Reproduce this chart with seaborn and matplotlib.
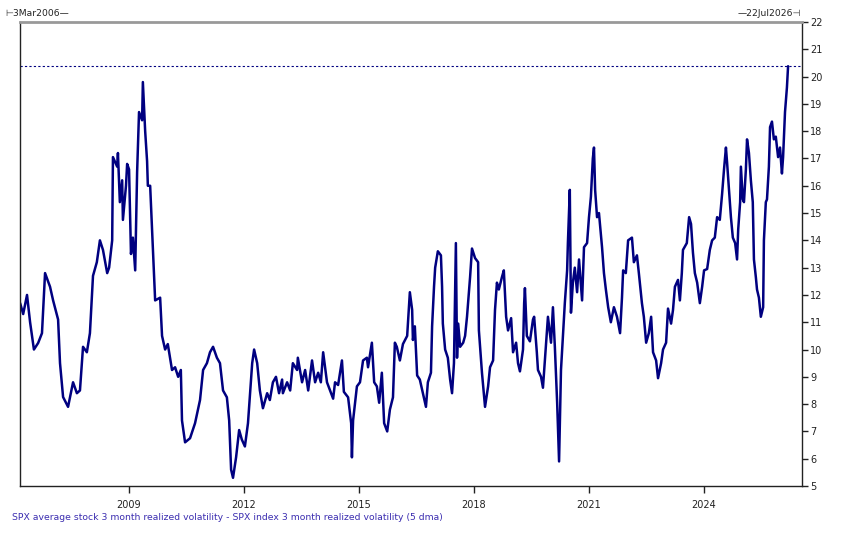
import numpy as np
import pandas as pd
import matplotlib
matplotlib.use("Agg")
import matplotlib.pyplot as plt
import seaborn as sns

# Decimal-year dates and values
years = [2006.17, 2006.25, 2006.35, 2006.43, 2006.53, 2006.64, 2006.74, 2006.82, 2006.95, 2007.03,
         2007.16, 2007.21, 2007.29, 2007.42, 2007.55, 2007.65, 2007.73, 2007.81, 2007.91, 2007.99,
         2008.07, 2008.17, 2008.25, 2008.33, 2008.44, 2008.49, 2008.57, 2008.59, 2008.70, 2008.72,
         2008.77, 2008.83, 2008.85, 2008.93, 2008.96, 2009.01, 2009.06, 2009.11, 2009.17, 2009.22,
         2009.27, 2009.35, 2009.37, 2009.43, 2009.48, 2009.50, 2009.56, 2009.63, 2009.69, 2009.82,
         2009.87, 2009.95, 2010.02, 2010.13, 2010.21, 2010.29, 2010.36, 2010.39, 2010.47, 2010.60,
         2010.73, 2010.86, 2010.94, 2011.04, 2011.12, 2011.20, 2011.30, 2011.38, 2011.46, 2011.56,
         2011.62, 2011.67, 2011.72, 2011.80, 2011.88, 2011.95, 2012.03, 2012.11, 2012.22, 2012.27,
         2012.35, 2012.42, 2012.50, 2012.61, 2012.68, 2012.76, 2012.84, 2012.92, 2013.00, 2013.02,
         2013.13, 2013.21, 2013.28, 2013.39, 2013.41, 2013.52, 2013.60, 2013.68, 2013.78, 2013.86,
         2013.94, 2014.01, 2014.07, 2014.17, 2014.25, 2014.33, 2014.38, 2014.46, 2014.56, 2014.61,
         2014.72, 2014.80, 2014.82, 2014.85, 2014.95, 2015.03, 2015.11, 2015.21, 2015.24, 2015.34,
         2015.40, 2015.47, 2015.53, 2015.60, 2015.66, 2015.74, 2015.81, 2015.89, 2015.94, 2015.99,
         2016.07, 2016.15, 2016.26, 2016.28, 2016.33, 2016.39, 2016.41, 2016.46, 2016.52, 2016.59,
         2016.67, 2016.75, 2016.80, 2016.88, 2016.91, 2016.96, 2016.99, 2017.06, 2017.14, 2017.17,
         2017.19, 2017.25, 2017.32, 2017.38, 2017.43, 2017.48, 2017.53, 2017.56, 2017.59, 2017.64,
         2017.72, 2017.77, 2017.82, 2017.90, 2017.95, 2018.03, 2018.11, 2018.13, 2018.21, 2018.29,
         2018.37, 2018.42, 2018.50, 2018.55, 2018.60, 2018.65, 2018.73, 2018.78, 2018.84, 2018.89,
         2018.97, 2019.02, 2019.10, 2019.15, 2019.20, 2019.28, 2019.31, 2019.33, 2019.38, 2019.46,
         2019.54, 2019.57, 2019.64, 2019.67, 2019.75, 2019.80, 2019.85, 2019.91, 2019.93, 2020.01,
         2020.06, 2020.11, 2020.17, 2020.22, 2020.27, 2020.32, 2020.37, 2020.43, 2020.45, 2020.50,
         2020.53, 2020.58, 2020.63, 2020.69, 2020.74, 2020.82, 2020.87, 2020.95, 2021.00, 2021.05,
         2021.10, 2021.13, 2021.16, 2021.21, 2021.26, 2021.34, 2021.39, 2021.44, 2021.50, 2021.57,
         2021.65, 2021.73, 2021.81, 2021.86, 2021.89, 2021.96, 2022.02, 2022.12, 2022.17, 2022.25,
         2022.30, 2022.38, 2022.43, 2022.49, 2022.56, 2022.62, 2022.67, 2022.75, 2022.80, 2022.88,
         2022.93, 2023.01, 2023.06, 2023.14, 2023.19, 2023.24, 2023.32, 2023.37, 2023.42, 2023.45,
         2023.55, 2023.61, 2023.66, 2023.71, 2023.76, 2023.82, 2023.89, 2023.95, 2024.00, 2024.08,
         2024.15, 2024.21, 2024.28, 2024.34, 2024.41, 2024.47, 2024.52, 2024.57, 2024.60, 2024.65,
         2024.70, 2024.75, 2024.81, 2024.86, 2024.89, 2024.94, 2024.96, 2025.01, 2025.04, 2025.09,
         2025.12, 2025.17, 2025.22, 2025.27, 2025.30, 2025.35, 2025.38, 2025.43, 2025.48, 2025.54,
         2025.56, 2025.61, 2025.64, 2025.69, 2025.72, 2025.77, 2025.82, 2025.87, 2025.93, 2025.98,
         2026.03, 2026.06, 2026.11, 2026.16, 2026.19]

values = [11.7, 11.3, 12.0, 11.0, 10.0, 10.24, 10.6, 12.8, 12.3, 11.8,
          11.1, 9.5, 8.26, 7.9, 8.8, 8.4, 8.5, 10.1, 9.9, 10.6,
          12.7, 13.2, 14.0, 13.65, 12.8, 13.0, 14.0, 17.05, 16.7, 17.2,
          15.4, 16.2, 14.75, 16.0, 16.8, 16.6, 13.5, 14.1, 12.9, 16.5,
          18.7, 18.4, 19.8, 18.0, 16.9, 16.0, 16.0, 13.75, 11.8, 11.9,
          10.5, 10.0, 10.2, 9.25, 9.35, 9.0, 9.25, 7.4, 6.6, 6.75,
          7.3, 8.15, 9.25, 9.5, 9.9, 10.1, 9.7, 9.5, 8.5, 8.25,
          7.4, 5.6, 5.3, 6.05, 7.05, 6.7, 6.45, 7.3, 9.5, 10.0,
          9.5, 8.5, 7.85, 8.4, 8.15, 8.8, 9.0, 8.4, 8.9, 8.4,
          8.8, 8.5, 9.5, 9.25, 9.7, 8.8, 9.25, 8.5, 9.6, 8.8,
          9.15, 8.8, 9.9, 8.8, 8.5, 8.2, 8.8, 8.7, 9.6, 8.45,
          8.25, 7.3, 6.05, 7.4, 8.65, 8.8, 9.6, 9.7, 9.35, 10.25,
          8.8, 8.65, 8.05, 9.15, 7.3, 7.0, 7.8, 8.25, 10.25, 10.1,
          9.6, 10.2, 10.5, 10.95, 12.1, 11.45, 10.35, 10.85, 9.05, 8.9,
          8.4, 7.9, 8.8, 9.15, 10.85, 12.3, 13.0, 13.6, 13.45, 12.3,
          10.95, 10.0, 9.7, 8.9, 8.4, 9.5, 13.9, 9.7, 10.95, 10.1,
          10.25, 10.5, 11.2, 12.65, 13.7, 13.35, 13.2, 10.7, 9.15, 7.9,
          8.65, 9.35, 9.6, 11.45, 12.45, 12.2, 12.65, 12.9, 11.2, 10.7,
          11.15, 9.9, 10.25, 9.5, 9.2, 10.0, 11.7, 12.25, 10.5, 10.3,
          11.1, 11.2, 9.9, 9.25, 9.0, 8.6, 9.6, 10.85, 11.2, 10.25,
          11.55, 10.1, 8.05, 5.9, 9.25, 10.5, 11.7, 12.9, 13.9, 15.85,
          11.35, 12.45, 13.0, 12.1, 13.3, 11.8, 13.75, 13.9, 14.85, 15.6,
          17.0, 17.4, 15.85, 14.85, 15.0, 13.75, 12.8, 12.2, 11.55, 11.0,
          11.55, 11.2, 10.6, 11.9, 12.9, 12.8, 14.0, 14.1, 13.2, 13.45,
          12.8, 11.7, 11.2, 10.25, 10.6, 11.2, 9.9, 9.6, 8.95, 9.5,
          10.0, 10.25, 11.5, 10.95, 11.45, 12.3, 12.55, 11.8, 12.8, 13.65,
          13.9, 14.85, 14.6, 13.55, 12.8, 12.45, 11.7, 12.3, 12.9, 12.95,
          13.65, 14.0, 14.1, 14.85, 14.75, 15.7, 16.6, 17.4, 16.85, 15.85,
          14.85, 14.1, 13.9, 13.3, 14.4, 15.4, 16.7, 15.5, 15.4, 16.6,
          17.7, 17.2, 16.2, 15.4, 13.3, 12.65, 12.2, 11.9, 11.2, 11.55,
          14.0, 15.4, 15.5, 16.7, 18.15, 18.35, 17.7, 17.8, 17.05, 17.4,
          16.45, 17.05, 18.7, 19.6, 20.38]

x_ticks = [2009, 2012, 2015, 2018, 2021, 2024]
y_ticks = list(range(5, 23))
start_label = "3Mar2006"
end_label = "22Jul2026"
caption = ("SPX average stock 3 month realized volatility - "
           "SPX index 3 month realized volatility (5 dma)")

df = pd.DataFrame({"year": years, "value": values})

sns.set_style("white")
plt.rcParams["font.family"] = ["DejaVu Sans"]

fig = plt.figure(figsize=(8.47, 5.51), dpi=100)
ax = fig.add_axes([20 / 847, 1 - 486 / 551, (802 - 20) / 847, (486 - 22) / 551])

navy = "#000080"
sns.lineplot(data=df, x="year", y="value", ax=ax, color=navy, linewidth=1.8)

last_val = values[-1]
ax.axhline(last_val, color=navy, linestyle=(0, (2, 2)), linewidth=0.8)

ax.set_xlim(2006.167, 2026.553)
ax.set_ylim(5, 22)
ax.set_xticks(x_ticks)
ax.set_xticklabels([str(t) for t in x_ticks])
ax.set_yticks(y_ticks)
ax.set_yticklabels([str(t) for t in y_ticks])
ax.yaxis.tick_right()
ax.set_xlabel("")
ax.set_ylabel("")

ax.tick_params(axis="x", direction="out", length=5, width=1, colors="#222222",
               labelsize=7, pad=5, bottom=True)
ax.tick_params(axis="y", direction="out", length=4, width=1, colors="#222222",
               labelsize=7, pad=2, right=True, left=False)

for side in ["left", "bottom", "right"]:
    ax.spines[side].set_color("#222222")
    ax.spines[side].set_linewidth(1.0)
ax.spines["top"].set_color("#999999")
ax.spines["top"].set_linewidth(2.0)
ax.grid(False)

fig.text(5 / 847, 1 - 14 / 551, "\u22a2" + start_label + "\u2014", fontsize=6.6,
         color="#222222", ha="left", va="center")
fig.text(801 / 847, 1 - 14 / 551, "\u2014" + end_label + "\u22a3", fontsize=6.6,
         color="#222222", ha="right", va="center")

fig.text(12 / 847, 1 - 518 / 551, caption, fontsize=6.7, color="#3b2db0",
         ha="left", va="center")

fig.savefig("out.png", dpi=100)
